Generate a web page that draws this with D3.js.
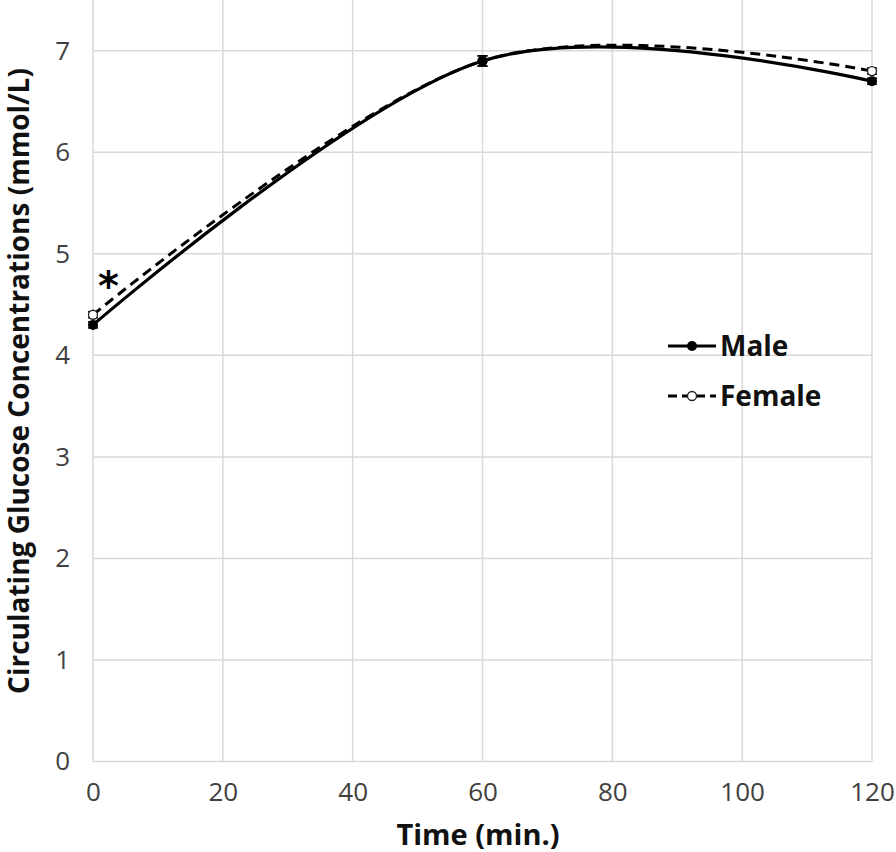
<!DOCTYPE html>
<html><head><meta charset="utf-8">
<script src="https://cdn.jsdelivr.net/npm/d3@7"></script>
<style>body{margin:0;background:#fff}svg{display:block}</style>
</head><body>
<svg id="c" width="896" height="852"></svg>
<script>
const times = [0, 60, 120];
const maleValues = [4.3, 6.9, 6.7];
const femaleValues = [4.4, 6.9, 6.8];
const maleErr = [0.03, 0.05, 0.03];
const femaleErr = [0.03, 0.05, 0.03];
const xTicks = [0, 20, 40, 60, 80, 100, 120];
const yTicks = [0, 1, 2, 3, 4, 5, 6, 7];
const seriesNames = ["Male", "Female"];

const svg = d3.select("#c");
const font = "'Open Sans', sans-serif";
const x = d3.scaleLinear().domain([0, 120]).range([93, 872]);
const y = d3.scaleLinear().domain([0, 7.5]).range([761.5, 0]);
const grid = "#d9d9d9";

// gridlines
svg.append("g").selectAll("line").data(xTicks).join("line")
  .attr("x1", d => x(d)).attr("x2", d => x(d)).attr("y1", y(0)).attr("y2", y(7.5))
  .attr("stroke", grid).attr("stroke-width", 1.5);
svg.append("g").selectAll("line").data(yTicks).join("line")
  .attr("x1", x(0)).attr("x2", x(120)).attr("y1", d => y(d)).attr("y2", d => y(d))
  .attr("stroke", grid).attr("stroke-width", 1.5);

// axes
const xAxis = svg.append("g").attr("transform", `translate(0,${y(0)})`)
  .call(d3.axisBottom(x).tickValues(xTicks).tickSize(0).tickPadding(20));
const yAxis = svg.append("g").attr("transform", `translate(${x(0)},0)`)
  .call(d3.axisLeft(y).tickValues(yTicks).tickSize(0).tickPadding(23));
[xAxis, yAxis].forEach(a => {
  a.select(".domain").remove();
  a.selectAll("text").attr("font-family", font).attr("font-size", 26).attr("fill", "#404040");
});
xAxis.selectAll("text").attr("dy", "0.75em");

// curves
const line = d3.line().x((d, i) => x(times[i])).y(d => y(d)).curve(d3.curveCardinal.tension(0));
svg.append("path").datum(femaleValues).attr("d", line).attr("fill", "none")
  .attr("stroke", "#000").attr("stroke-width", 3).attr("stroke-dasharray", "10,6");
svg.append("path").datum(maleValues).attr("d", line).attr("fill", "none")
  .attr("stroke", "#000").attr("stroke-width", 3.2);

// error bars
function errBars(vals, errs) {
  const g = svg.append("g").attr("stroke", "#000").attr("stroke-width", 1.5);
  vals.forEach((v, i) => {
    const cx = x(times[i]);
    g.append("line").attr("x1", cx).attr("x2", cx).attr("y1", y(v - errs[i])).attr("y2", y(v + errs[i]));
    [v - errs[i], v + errs[i]].forEach(e => g.append("line").attr("x1", cx - 5).attr("x2", cx + 5).attr("y1", y(e)).attr("y2", y(e)));
  });
}
errBars(femaleValues, femaleErr);
errBars(maleValues, maleErr);

// markers
svg.append("g").selectAll("circle").data(femaleValues).join("circle")
  .attr("cx", (d, i) => x(times[i])).attr("cy", d => y(d)).attr("r", 4.5)
  .attr("fill", "#fff").attr("stroke", "#222").attr("stroke-width", 1.3);
svg.append("g").selectAll("circle").data(maleValues).join("circle")
  .attr("cx", (d, i) => x(times[i])).attr("cy", d => y(d)).attr("r", 5)
  .attr("fill", "#000");

// asterisk
svg.append("text").attr("x", x(2.4)).attr("y", y(4.55)).attr("text-anchor", "middle")
  .attr("font-family", "'DejaVu Sans', sans-serif").attr("font-weight", "bold").attr("font-size", 40)
  .text("*");

// legend
const leg = svg.append("g");
seriesNames.forEach((n, i) => {
  const ly = 346 + i * 50;
  leg.append("line").attr("x1", 668).attr("x2", 716).attr("y1", ly).attr("y2", ly)
    .attr("stroke", "#000").attr("stroke-width", 3).attr("stroke-dasharray", i ? "9,5" : null);
  leg.append("circle").attr("cx", 692).attr("cy", ly).attr("r", i ? 4.5 : 5)
    .attr("fill", i ? "#fff" : "#000").attr("stroke", i ? "#222" : "none").attr("stroke-width", 1.3);
  leg.append("text").attr("x", 720).attr("y", ly).attr("dy", "0.36em")
    .attr("font-family", font).attr("font-weight", "bold").attr("font-size", 28).attr("fill", "#111").text(n);
});

// axis titles
svg.append("text").attr("x", 478).attr("y", 845).attr("text-anchor", "middle")
  .attr("font-family", font).attr("font-weight", "bold").attr("font-size", 29).attr("fill", "#111")
  .text("Time (min.)");
svg.append("text").attr("transform", "translate(29,381) rotate(-90)").attr("text-anchor", "middle")
  .attr("font-family", font).attr("font-weight", "bold").attr("font-size", 28).attr("fill", "#111")
  .text("Circulating Glucose Concentrations (mmol/L)");
</script>
</body></html>
